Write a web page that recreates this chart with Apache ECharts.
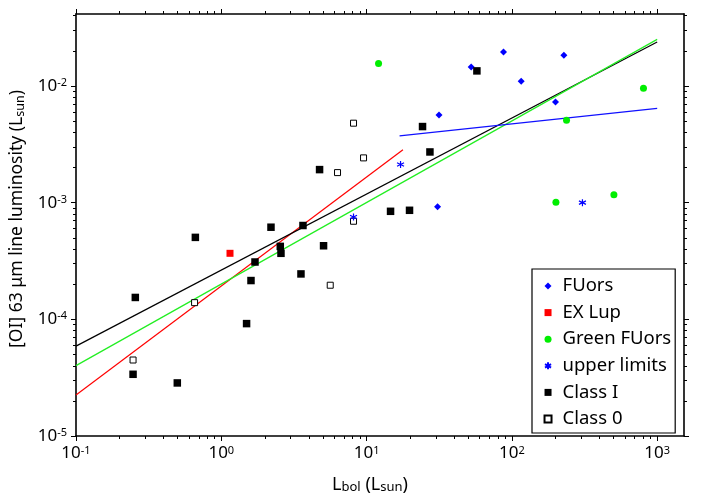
<!DOCTYPE html>
<html>
<head>
<meta charset="utf-8">
<script src="https://cdn.jsdelivr.net/npm/echarts@6/dist/echarts.min.js"></script>
<style>
  html, body { margin: 0; padding: 0; background: #fff; }
  #chart { width: 708px; height: 499px; }
</style>
</head>
<body>
<div id="chart"></div>
<script>
// Bolometric luminosity (L_sun) and [OI] 63 micron line luminosity (L_sun)
const fuorsL  = [31.5, 52.5, 87.6, 115.9, 228, 199.6, 30.8];
const fuorsOI = [5.65e-3, 1.457e-2, 1.956e-2, 1.10e-2, 1.833e-2, 7.29e-3, 9.24e-4];

const exLupL  = [1.148];
const exLupOI = [3.68e-4];

const greenL  = [12.09, 237.7, 805, 201, 503.8];
const greenOI = [1.558e-2, 5.09e-3, 9.54e-3, 1.006e-3, 1.17e-3];

const upperL  = [17.13, 8.13, 306];
const upperOI = [2.12e-3, 7.54e-4, 1.0e-3];

const class1L  = [0.256, 0.247, 0.498, 0.663, 1.493, 1.601, 1.706, 2.198, 2.547, 2.575,
                  3.535, 3.649, 4.747, 5.057, 14.62, 19.75, 24.27, 27.29, 57.45];
const class1OI = [1.54e-4, 3.38e-5, 2.85e-5, 5.04e-4, 9.19e-5, 2.15e-4, 3.10e-4, 6.16e-4, 4.22e-4, 3.68e-4,
                  2.45e-4, 6.37e-4, 1.92e-3, 4.27e-4, 8.43e-4, 8.6e-4, 4.49e-3, 2.72e-3, 1.347e-2];

const class0L  = [8.13, 6.31, 9.53, 8.13, 5.62, 0.655, 0.247];
const class0OI = [4.80e-3, 1.81e-3, 2.42e-3, 6.93e-4, 1.96e-4, 1.39e-4, 4.48e-5];

// Power-law fits: end points of each line
const fitRedL    = [0.1, 17.8];
const fitRedOI   = [2.25e-5, 2.84e-3];
const fitBlackL  = [0.1, 1000];
const fitBlackOI = [5.89e-5, 2.379e-2];
const fitGreenL  = [0.1, 1000];
const fitGreenOI = [4.01e-5, 2.51e-2];
const fitBlueL   = [16.86, 1000];
const fitBlueOI  = [3.74e-3, 6.44e-3];

// Axis ranges and tick values
const X_MIN = 0.1, X_MAX = 1530;
const Y_MIN = 1e-5, Y_MAX = 0.0414;
const X_MAJOR = [0.1, 1, 10, 100, 1000];
const Y_MAJOR = [1e-5, 1e-4, 1e-3, 1e-2];

function minorTicks(lo, hi) {
  const out = [];
  for (let e = Math.floor(Math.log10(lo)); e <= Math.ceil(Math.log10(hi)); e++) {
    for (let k = 2; k <= 9; k++) {
      const v = k * Math.pow(10, e);
      if (v > lo && v < hi) out.push(v);
    }
  }
  return out;
}
const X_MINOR = minorTicks(X_MIN, X_MAX);
const Y_MINOR = minorTicks(Y_MIN, Y_MAX);

const FONT = 'Noto Sans';
const zip = (a, b) => a.map((v, i) => [v, b[i]]);

const powLabel = v => '{b|10}{s|' + Math.round(Math.log10(v)) + '}';
const labelRich = {
  b: { fontFamily: FONT, fontSize: 17, color: '#000' },
  s: { fontFamily: FONT, fontSize: 11, color: '#000', verticalAlign: 'top', padding: [0, 0, 6, 0] }
};
const nameRich = {
  m: { fontFamily: FONT, fontSize: 18, color: '#000' },
  sub: { fontFamily: FONT, fontSize: 13, color: '#000', verticalAlign: 'bottom', padding: [6, 0, 0, 0] }
};
const yNameRich = {
  m: { fontFamily: FONT, fontSize: 17.5, color: '#000' },
  sub: { fontFamily: FONT, fontSize: 12.5, color: '#000', verticalAlign: 'bottom', padding: [6, 0, 0, 0] }
};

const frameLine = { show: true, lineStyle: { color: '#000', width: 1.6 } };

function xAxisDef(position, ticks, len, withLine, withLabels) {
  return {
    type: 'log', logBase: 10, min: X_MIN, max: X_MAX, position: position,
    axisLine: withLine ? frameLine : { show: false },
    axisTick: { show: true, inside: false, length: len, customValues: ticks,
                lineStyle: { color: '#000', width: 1 } },
    axisLabel: withLabels
      ? { show: true, customValues: X_MAJOR, margin: 9, formatter: powLabel, rich: labelRich }
      : { show: false },
    splitLine: { show: false }, minorTick: { show: false }, minorSplitLine: { show: false }
  };
}
function yAxisDef(position, ticks, len, withLine, withLabels) {
  return {
    type: 'log', logBase: 10, min: Y_MIN, max: Y_MAX, position: position,
    axisLine: withLine ? frameLine : { show: false },
    axisTick: { show: true, inside: false, length: len, customValues: ticks,
                lineStyle: { color: '#000', width: 1 } },
    axisLabel: withLabels
      ? { show: true, customValues: Y_MAJOR, margin: 9, formatter: powLabel, rich: labelRich }
      : { show: false },
    splitLine: { show: false }, minorTick: { show: false }, minorSplitLine: { show: false }
  };
}

const xMain = xAxisDef('bottom', X_MAJOR, 5, true, true);
xMain.name = '{m|L}{sub|bol}{m| (L}{sub|sun}{m|)}';
xMain.nameLocation = 'middle';
xMain.nameGap = 39;
xMain.nameTextStyle = { rich: nameRich, padding: [0, 20, 0, 0] };

const yMain = yAxisDef('left', Y_MAJOR, 5, true, true);
yMain.name = '{m|[OI] 63 μm line luminosity (L}{sub|sun}{m|)}';
yMain.nameLocation = 'middle';
yMain.nameGap = 42;
yMain.nameRotate = 90;
yMain.nameTextStyle = { rich: yNameRich, padding: [0, 0, 0, 12] };

const starPath = 'path://M0,-1L0,1M-0.866,-0.5L0.866,0.5M-0.866,0.5L0.866,-0.5';

const option = {
  backgroundColor: '#fff',
  animation: false,
  grid: { left: 76, right: 24, top: 14, bottom: 60, containLabel: false },
  xAxis: [
    xMain,
    xAxisDef('bottom', X_MINOR, 3, false, false),
    xAxisDef('top', X_MAJOR, 5, true, false),
    xAxisDef('top', X_MINOR, 3, false, false)
  ],
  yAxis: [
    yMain,
    yAxisDef('left', Y_MINOR, 3, false, false),
    yAxisDef('right', Y_MAJOR, 5, true, false),
    yAxisDef('right', Y_MINOR, 3, false, false)
  ],
  legend: {
    data: ['FUors', 'EX Lup', 'Green FUors', 'upper limits', 'Class I', 'Class 0'],
    orient: 'vertical',
    left: 532, top: 269,
    padding: [7, 4, 4, 10.5],
    itemGap: 6.6,
    itemWidth: 7, itemHeight: 7,
    backgroundColor: '#fff',
    borderColor: '#000', borderWidth: 1.2,
    textStyle: { fontFamily: FONT, fontSize: 18.5, color: '#000', lineHeight: 20, padding: [0, 0, 0, 6] }
  },
  series: [
    { name: 'fitRed', type: 'line', data: zip(fitRedL, fitRedOI), showSymbol: false, silent: true,
      lineStyle: { color: '#ff0000', width: 1.2 }, z: 1 },
    { name: 'fitBlack', type: 'line', data: zip(fitBlackL, fitBlackOI), showSymbol: false, silent: true,
      lineStyle: { color: '#000000', width: 1.2 }, z: 1 },
    { name: 'fitGreen', type: 'line', data: zip(fitGreenL, fitGreenOI), showSymbol: false, silent: true,
      lineStyle: { color: '#22ee22', width: 1.2 }, z: 1 },
    { name: 'fitBlue', type: 'line', data: zip(fitBlueL, fitBlueOI), showSymbol: false, silent: true,
      lineStyle: { color: '#1010ff', width: 1.2 }, z: 1 },
    { name: 'FUors', type: 'scatter', data: zip(fuorsL, fuorsOI), symbol: 'diamond', symbolSize: 7,
      itemStyle: { color: '#0000ff', opacity: 1 }, z: 3 },
    { name: 'EX Lup', type: 'scatter', data: zip(exLupL, exLupOI), symbol: 'rect', symbolSize: 7,
      itemStyle: { color: '#ff0000', opacity: 1 }, z: 3 },
    { name: 'Green FUors', type: 'scatter', data: zip(greenL, greenOI), symbol: 'circle', symbolSize: 7,
      itemStyle: { color: '#00ee00', opacity: 1 }, z: 3 },
    { name: 'Class I', type: 'scatter', data: zip(class1L, class1OI), symbol: 'rect', symbolSize: 7.5,
      itemStyle: { color: '#000000', opacity: 1 }, z: 3 },
    { name: 'Class 0', type: 'scatter', data: zip(class0L, class0OI), symbol: 'rect', symbolSize: 6,
      itemStyle: { color: '#ffffff', borderColor: '#000000', borderWidth: 1, opacity: 1 }, z: 3 },
    { name: 'upper limits', type: 'scatter', data: zip(upperL, upperOI), symbol: starPath, symbolSize: 7,
      itemStyle: { color: 'none', borderColor: '#0000ff', borderWidth: 1.2, opacity: 1 }, z: 4 }
  ]
};

const chart = echarts.init(document.getElementById('chart'), null, { renderer: 'canvas' });
chart.setOption(option);
</script>
</body>
</html>
